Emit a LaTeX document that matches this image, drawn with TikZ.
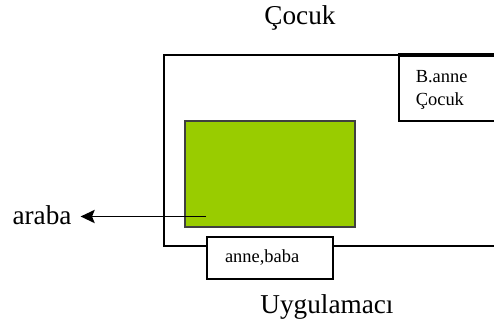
\documentclass[tikz,border=0pt]{standalone}
\usepackage{fontspec}
\setmainfont{Liberation Serif}
\usepackage{tikz}
\usetikzlibrary{arrows.meta,positioning}

\begin{document}
\begin{tikzpicture}[x=0.02cm,y=-0.02cm,>={Stealth[length=8pt,width=7.5pt,inset=1.5pt]},
big/.style={font=\fontsize{15.5}{18}\selectfont},
small/.style={font=\fontsize{10.5}{13}\selectfont},
frame/.style={draw, line width=0.9pt, fill=white}]
\clip (0,0) rectangle (494,333);
\node (cocuk) at (300,18) [big] {Çocuk};
\node (uyg) at (327,307) [big] {Uygulamacı};
\node (outer) at (334,150.5) [frame, minimum width=6.8cm, minimum height=3.82cm] {};
\node (banne) at (398,55) [frame, anchor=north west, minimum height=1.3cm,
  text width=2cm, inner xsep=0.34cm, align=left, small] {\\[-4pt]B.anne\\Çocuk};
\draw [line width=1.8pt] (banne.north west)--(banne.north east);
\node (green) at (270,174) [draw=black!75, line width=0.6pt, fill={rgb,255:red,153;green,204;blue,0},
  minimum width=3.4cm, minimum height=2.12cm] {};
\node (annebaba) at (270,258) [frame, minimum width=2.52cm, minimum height=0.84cm,
  text width=1.8cm, inner xsep=0.36cm, align=left, small] {anne,baba};
\node (araba) at (42,215) [big, inner xsep=5pt] {araba};
\coordinate (arrowstart) at (206,216.5);
\draw [->, line width=1.1pt] (arrowstart)--(araba.east |- arrowstart);
\end{tikzpicture}
\end{document}
